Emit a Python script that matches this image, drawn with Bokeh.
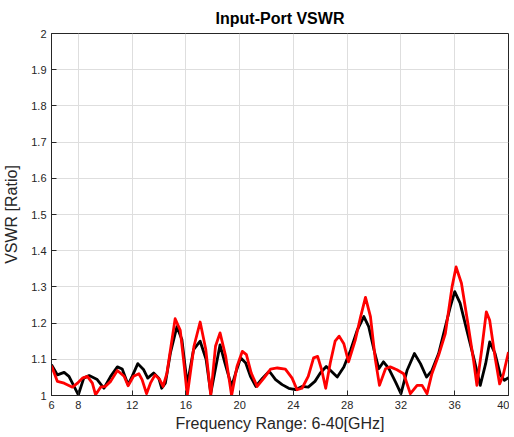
from bokeh.plotting import figure
from bokeh.models import FixedTicker, Range1d
from bokeh.embed import file_html
from bokeh.resources import INLINE

# Black trace
black_f = [6.0, 6.44, 6.94, 7.3, 8.0, 8.4, 8.8, 9.4, 9.9, 10.4, 10.9, 11.26, 11.7, 12.0, 12.42, 12.86,
           13.16, 13.6, 13.98, 14.2, 14.47, 14.85, 15.33, 15.7, 16.1, 16.57, 17.06, 17.5, 17.85, 18.54,
           18.9, 19.4, 19.7, 20.07, 20.45, 20.8, 21.2, 21.7, 22.2, 22.67, 23.16, 23.65, 24.15, 24.64,
           25.1, 25.6, 26.0, 26.44, 26.76, 27.26, 27.75, 28.25, 28.74, 29.24, 29.6, 30.0, 30.35, 30.7,
           31.1, 31.6, 32.0, 32.45, 33.0, 33.45, 33.9, 34.3, 34.8, 35.3, 35.67, 36.0, 36.4, 36.9, 37.4,
           37.9, 38.3, 38.6, 39.0, 39.4, 39.7, 40.0]
black_v = [1.085, 1.057, 1.064, 1.053, 1.002, 1.048, 1.055, 1.044, 1.02, 1.053, 1.079, 1.073, 1.03, 1.053,
           1.088, 1.071, 1.048, 1.062, 1.048, 1.02, 1.034, 1.118, 1.19, 1.155, 1.03, 1.127, 1.15, 1.1,
           1.006, 1.14, 1.09, 1.025, 1.062, 1.104, 1.09, 1.053, 1.025, 1.048, 1.067, 1.044, 1.03, 1.02,
           1.016, 1.025, 1.023, 1.039, 1.062, 1.08, 1.069, 1.051, 1.079, 1.125, 1.18, 1.218, 1.19, 1.125,
           1.074, 1.093, 1.074, 1.037, 1.005, 1.069, 1.116, 1.088, 1.051, 1.069, 1.116, 1.19, 1.245,
           1.287, 1.255, 1.18, 1.106, 1.028, 1.088, 1.148, 1.116, 1.056, 1.042, 1.049]

# Red trace
red_f = [6.0, 6.44, 6.94, 7.56, 7.93, 8.3, 8.67, 9.04, 9.28, 9.65, 10.0, 10.4, 10.9, 11.4, 11.7, 12.1,
         12.5, 12.74, 13.07, 13.36, 13.7, 14.05, 14.3, 14.59, 14.89, 15.2, 15.58, 15.88, 16.1, 16.6,
         17.06, 17.48, 17.85, 18.2, 18.54, 18.96, 19.4, 19.8, 20.2, 20.5, 20.86, 21.3, 21.8, 22.3, 22.8,
         23.4, 23.9, 24.27, 24.64, 25.1, 25.5, 25.8, 26.1, 26.4, 26.74, 27.1, 27.4, 27.75, 28.1, 28.6,
         29.0, 29.36, 29.73, 30.1, 30.4, 30.85, 31.2, 31.7, 32.2, 32.7, 33.2, 33.57, 33.94, 34.3, 34.8,
         35.3, 35.8, 36.1, 36.5, 37.0, 37.4, 37.65, 38.0, 38.35, 38.6, 39.0, 39.34, 39.6, 40.0]
red_v = [1.082, 1.039, 1.034, 1.023, 1.034, 1.048, 1.053, 1.034, 1.002, 1.023, 1.025, 1.039, 1.069,
         1.053, 1.027, 1.053, 1.06, 1.044, 1.005, 1.034, 1.057, 1.044, 1.025, 1.062, 1.136, 1.212, 1.18,
         1.08, 1.0, 1.136, 1.203, 1.127, 1.0, 1.136, 1.173, 1.108, 1.0, 1.08, 1.122, 1.113, 1.062, 1.025,
         1.048, 1.073, 1.076, 1.073, 1.048, 1.016, 1.02, 1.053, 1.104, 1.108, 1.071, 1.02, 1.09, 1.15,
         1.164, 1.143, 1.093, 1.153, 1.218, 1.271, 1.218, 1.097, 1.028, 1.074, 1.079, 1.071, 1.06, 1.005,
         1.028, 1.028, 1.005, 1.06, 1.111, 1.171, 1.3, 1.355, 1.31, 1.194, 1.097, 1.028, 1.125, 1.231,
         1.208, 1.106, 1.032, 1.056, 1.12]

x_ticks = [6, 8, 12, 16, 20, 24, 28, 32, 36, 40]
y_ticks = [1.0, 1.1, 1.2, 1.3, 1.4, 1.5, 1.6, 1.7, 1.8, 1.9, 2.0]

FONT = "Liberation Sans"
AXC = "#262626"

p = figure(frame_width=457, frame_height=362, output_backend="svg", toolbar_location=None,
           x_range=Range1d(6, 40), y_range=Range1d(1, 2),
           min_border_left=47, min_border_right=1, min_border_top=33, min_border_bottom=33,
           title="Input-Port VSWR")
p.title.text_font = FONT
p.title.text_font_size = "16px"
p.title.text_font_style = "bold"
p.title.align = "center"
p.title.text_color = "#000000"
p.title.offset = 0
p.title.standoff = 14

p.line(black_f, black_v, line_color="#000000", line_width=2.8, line_join="round")
p.line(red_f, red_v, line_color="#ff0000", line_width=2.8, line_join="round")

p.xaxis.ticker = FixedTicker(ticks=x_ticks)
p.yaxis.ticker = FixedTicker(ticks=y_ticks)
p.yaxis.major_label_overrides = {1.0: "1", 2.0: "2"}
p.xaxis.axis_label = "Frequency Range: 6-40[GHz]"
p.yaxis.axis_label = "VSWR [Ratio]"

for ax in [p.xaxis[0], p.yaxis[0]]:
    ax.axis_line_color = AXC
    ax.major_tick_line_color = AXC
    ax.major_tick_in = 5
    ax.major_tick_out = 0
    ax.minor_tick_line_color = None
    ax.major_label_text_font = FONT
    ax.major_label_text_font_size = "11px"
    ax.major_label_text_color = AXC
    ax.axis_label_text_font = FONT
    ax.axis_label_text_font_size = "16px"
    ax.axis_label_text_font_style = "normal"
    ax.axis_label_text_color = AXC
p.xaxis.major_label_standoff = 5
p.xaxis.axis_label_standoff = 3
p.yaxis.major_label_standoff = 5
p.yaxis.axis_label_standoff = 8

p.xgrid.grid_line_color = "#dedede"
p.ygrid.grid_line_color = "#dedede"
p.outline_line_color = AXC
p.background_fill_color = "#ffffff"
p.border_fill_color = "#ffffff"

open("out.html", "w").write(file_html(p, INLINE))
